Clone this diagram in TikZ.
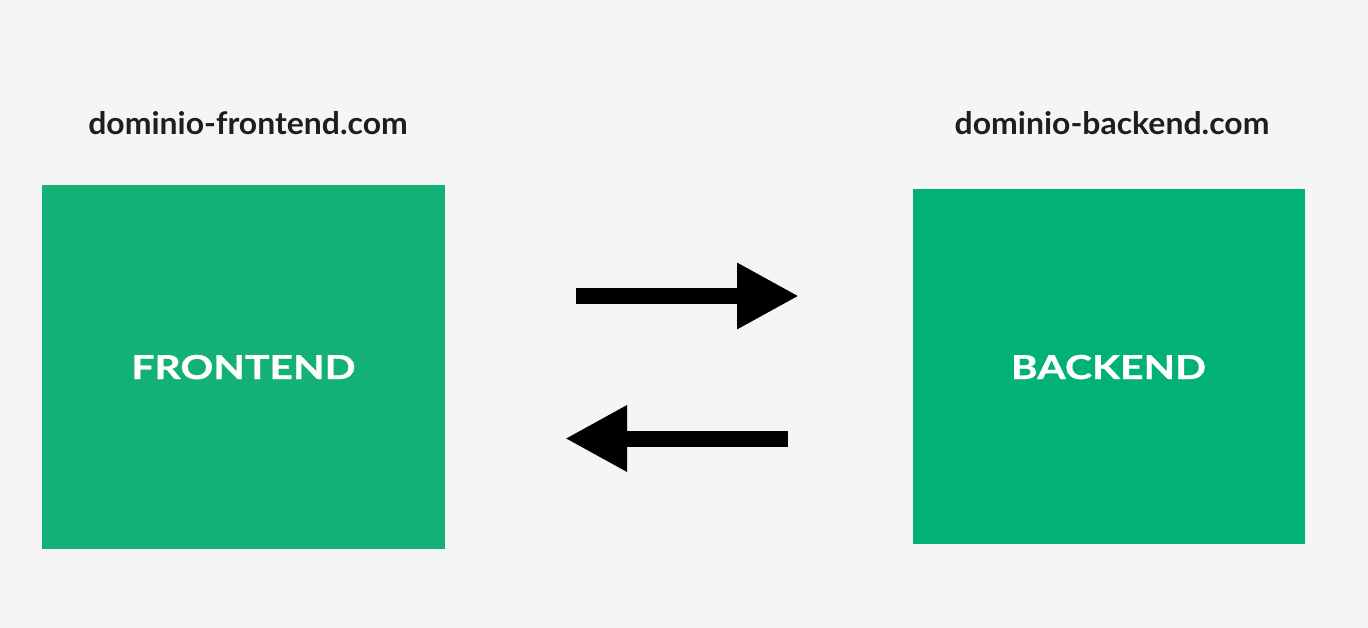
\documentclass[tikz,border=0pt]{standalone}
\usepackage{fontspec}
\setmainfont{Lato}[UprightFont=* Bold]
\newfontfamily\labfont{Lato}[UprightFont=* Bold, FakeStretch=1.03]
\newfontfamily\boxfont{Lato}[UprightFont=* Bold, FakeStretch=1.24, FakeBold=0.8]
\usetikzlibrary{arrows.meta}
\definecolor{bg}{HTML}{F4F5F4}
\definecolor{fegreen}{HTML}{13B176}
\definecolor{begreen}{HTML}{02B176}
\definecolor{txt}{HTML}{1E1E1E}
\tikzset{
  servertext/.style={text=white, inner sep=0pt, anchor=base, font=\boxfont\fontsize{33}{40}\selectfont},
  domainlabel/.style={text=txt, inner sep=0pt, anchor=base, font=\labfont\fontsize{31}{36}\selectfont},
  flow/.style={line width=16pt, line cap=butt, -{Triangle[length=62pt,width=62pt]}}
}
\begin{document}
\begin{tikzpicture}[x=1pt,y=-1pt]
\fill[bg] (0,0) rectangle (1368,628);
\useasboundingbox (0,0) rectangle (1368,628);
\node[fill=fegreen, minimum width=403pt, minimum height=364pt, inner sep=0pt] (fe) at (243.5,367) {};
\node[fill=begreen, minimum width=392pt, minimum height=355pt, inner sep=0pt] (be) at (1109,366.5) {};
\node[servertext] (fet) at (243.5,379) {FRONTEND};
\node[servertext] (bet) at (1108.5,379) {BACKEND};
\node[domainlabel] (fed) at (248,135) {dominio-frontend.com};
\node[domainlabel] (bed) at (1112,135) {dominio-backend.com};
\coordinate (a1s) at (576,296);
\coordinate (a1e) at (799,296);
\coordinate (a2s) at (788,438.5);
\coordinate (a2e) at (565,438.5);
\draw[flow] (a1s) -- (a1e);
\draw[flow] (a2s) -- (a2e);
\end{tikzpicture}
\end{document}
